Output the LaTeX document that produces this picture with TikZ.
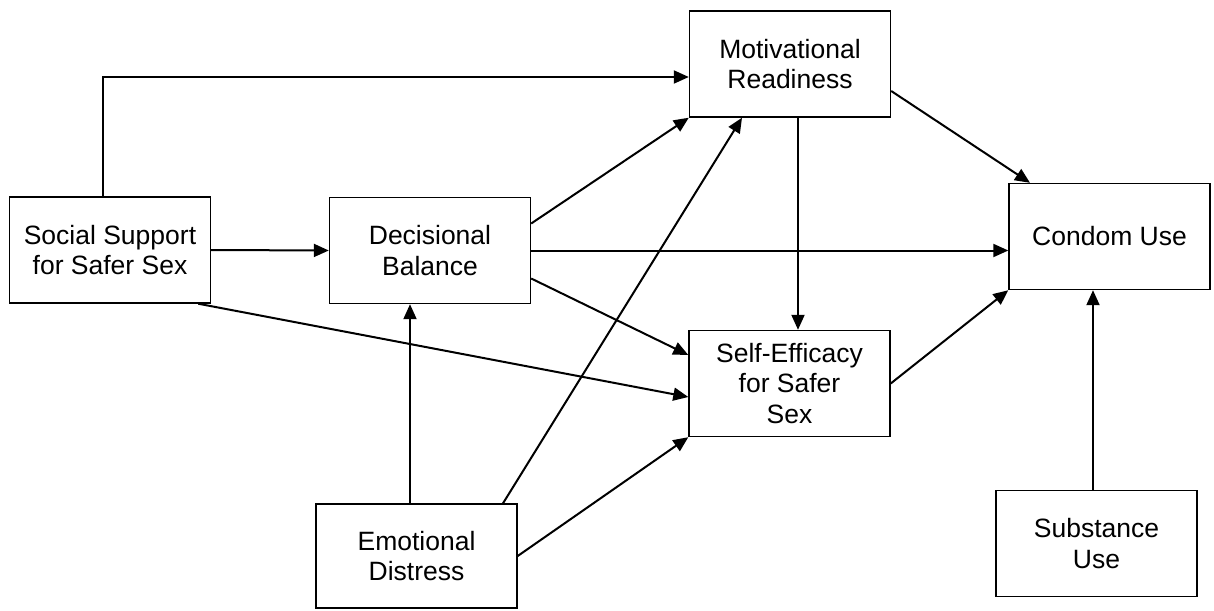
\documentclass[tikz,border=0pt]{standalone}
\usepackage{fontspec}
\setmainfont{Liberation Sans}
\usepackage{tikz}
\usetikzlibrary{arrows.meta}

\tikzset{
  box/.style={draw, line width=1.4pt, minimum width=201pt, minimum height=106pt,
    align=center, inner sep=0pt, font=\fontsize{26.5}{30.5}\selectfont},
  arr/.style={line width=2pt, -{Triangle[length=15pt,width=13pt]}}
}

\begin{document}
\begin{tikzpicture}[x=1pt,y=-1pt]
\useasboundingbox (0,0) rectangle (1214,610);
\node[box] (social) at (110,250) {Social Support\\for Safer Sex};
\node[box] (dec) at (430,250.5) {Decisional\\Balance};
\node[box] (mot) at (790,64) {Motivational\\Readiness};
\node[box] (self) at (789.5,383.5) {Self-Efficacy\\for Safer\\Sex};
\node[box] (condom) at (1109.5,236.5) {Condom Use};
\node[box, minimum height=104pt] (emo) at (416.5,556) {Emotional\\Distress};
\node[box] (subst) at (1096.5,543.5) {Substance\\Use};

\draw[arr] ([xshift=-7pt]social.north) |- ([yshift=-13pt]mot.west);
\draw[arr] (social.east) -- (dec.west);
\draw[arr] ([xshift=-13pt]social.south east) -- ([yshift=-13.5pt]self.west);
\draw[arr] ([yshift=27pt]dec.east) -- (mot.south west);
\draw[arr] (dec.east) -- (dec.east -| condom.west);
\draw[arr] ([yshift=-28pt]dec.east) -- ([yshift=28.5pt]self.west);
\draw[arr] ([xshift=-6.5pt]emo.north) -- ([xshift=-6.5pt]emo.north |- dec.south);
\draw[arr] ([xshift=86.5pt]emo.north) -- ([xshift=-48pt]mot.south);
\draw[arr] (emo.east) -- (self.south west);
\draw[arr] ([yshift=-27pt]mot.east) -- ([xshift=-79.5pt]condom.north);
\draw[arr] ([xshift=8pt]mot.south) -- ([xshift=8pt]mot.south |- self.north);
\draw[arr] (self.east) -- (condom.south west);
\draw[arr] ([xshift=-3.5pt]subst.north) -- ([xshift=-3.5pt]subst.north |- condom.south);
\end{tikzpicture}
\end{document}
